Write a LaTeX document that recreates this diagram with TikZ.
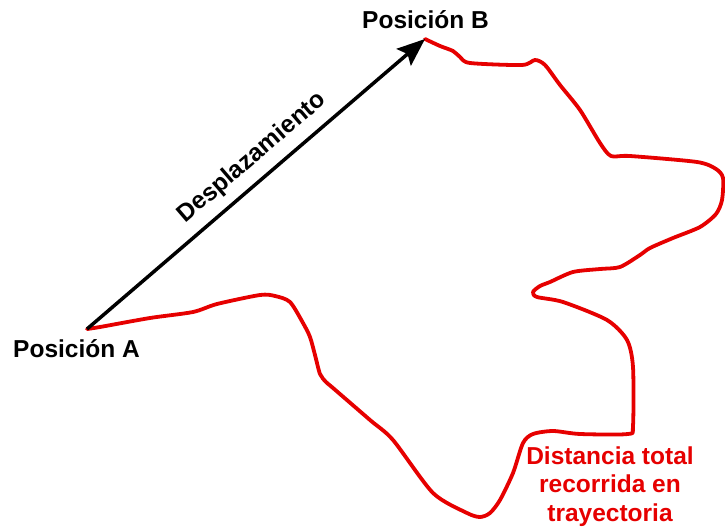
\documentclass[tikz,border=0pt]{standalone}
\usepackage{fontspec}
\setmainfont{Liberation Sans}
\usetikzlibrary{arrows.meta}
\definecolor{pathred}{RGB}{230,0,0}
\begin{document}
\begin{tikzpicture}[x=1pt,y=-1pt,
  label text/.style={font=\fontsize{24.5}{28.5}\selectfont\bfseries, inner sep=0pt},
  displacement/.style={draw=black, line width=3.5pt,
    -{Stealth[length=28pt, width=22pt, inset=5pt]}},
  trajectory/.style={draw=pathred, line width=3.8pt, line join=round, line cap=round}]
  \useasboundingbox (0,0) rectangle (725,529);

  % start and end points
  \coordinate (A) at (87,329);
  \coordinate (B) at (425,39);

  % actual path travelled from A to B
  \draw[trajectory] plot[smooth, tension=0.45] coordinates {
    (87,329) (100,327) (150,318) (193,312) (217,304) (260,295) (275,296)
    (290,302) (303,323) (310,337) (315,355) (320,374) (326,382) (333,388)
    (370,420) (393,440) (433,493) (467,513) (480,517) (490,513) (500,500)
    (513,473) (523,443) (533,434) (553,431) (580,434) (628,434) (633,426)
    (633,367) (627,340) (607,320) (563,302) (537,297) (533,292) (540,286)
    (550,282) (573,272) (600,269) (620,267) (640,255) (650,248) (673,238)
    (700,227) (716,214) (722,200) (723,178) (716,169) (697,162) (630,156)
    (611,156) (600,143) (580,110) (560,85) (545,65) (535,60) (522,65)
    (470,63) (460,57) (453,51) (440,46) (425,39)};

  % straight-line displacement
  \draw[displacement] (A) -- (B);

  % labels
  \node[label text, anchor=base] (labA) at (76.5,357) {Posición A};
  \node[label text, anchor=base] (labB) at (425.5,29) {Posición B};
  \node[label text, rotate=40.6] (labD) at (252,158) {Desplazamiento};
  \node[label text, text=pathred, align=center, anchor=base]
    (labT) at (610,521) {Distancia total\\recorrida en\\trayectoria};
\end{tikzpicture}
\end{document}
